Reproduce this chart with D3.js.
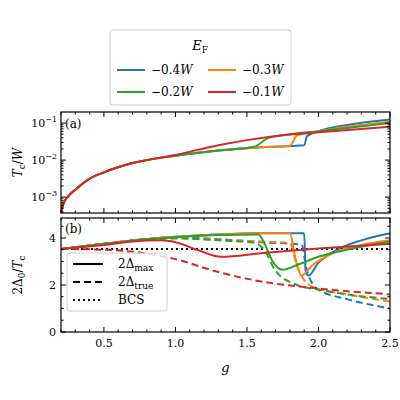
<!DOCTYPE html><html><head><script src="https://cdn.jsdelivr.net/npm/d3@7"></script>
<style>body{margin:0;background:#fff}text{font-family:"DejaVu Serif",serif}</style></head><body>
<svg id="c" width="400" height="400"></svg>
<script>
const labels=["−0.4","−0.3","−0.2","−0.1"];
const colors=["#1f77b4","#ff7f0e","#2ca02c","#d62728"];
// Tc/W as log10 values: [g, log10]
const tcBlue=[[0.2,-3.43],[0.22,-3.15],[0.25,-2.98],[0.3,-2.8],[0.4,-2.5],[0.5,-2.33],[0.7,-2.08],[1.0,-1.88],[1.3,-1.74],[1.6,-1.65],[1.9,-1.6],[1.92,-1.35],[2.0,-1.22],[2.2,-1.05],[2.5,-0.9]];
const tcOrange=[[0.2,-3.43],[0.22,-3.15],[0.25,-2.98],[0.3,-2.8],[0.4,-2.5],[0.5,-2.33],[0.7,-2.08],[1.0,-1.88],[1.3,-1.74],[1.6,-1.65],[1.8,-1.62],[1.85,-1.33],[2.0,-1.22],[2.2,-1.1],[2.5,-0.96]];
const tcGreen=[[0.2,-3.43],[0.22,-3.15],[0.25,-2.98],[0.3,-2.8],[0.4,-2.5],[0.5,-2.33],[0.7,-2.08],[1.0,-1.88],[1.3,-1.74],[1.55,-1.64],[1.65,-1.4],[1.8,-1.3],[2.0,-1.22],[2.2,-1.13],[2.5,-1.0]];
const tcRed=[[0.2,-3.43],[0.22,-3.15],[0.25,-2.98],[0.3,-2.8],[0.4,-2.5],[0.5,-2.33],[0.7,-2.08],[1.0,-1.86],[1.3,-1.6],[1.5,-1.46],[1.75,-1.33],[2.0,-1.25],[2.25,-1.17],[2.5,-1.1]];
const maxBlue=[[0.2,3.53],[0.5,3.75],[0.8,3.95],[1.0,4.05],[1.3,4.15],[1.6,4.2],[1.9,4.2],[1.91,2.6],[1.93,2.4],[2.0,2.95],[2.1,3.4],[2.3,3.9],[2.5,4.2]];
const maxOrange=[[0.2,3.53],[0.5,3.75],[0.8,3.95],[1.0,4.05],[1.3,4.15],[1.6,4.2],[1.8,4.2],[1.84,3.1],[1.88,2.4],[1.95,2.8],[2.1,3.35],[2.3,3.7],[2.5,3.9]];
const maxGreen=[[0.2,3.53],[0.5,3.75],[0.8,3.95],[1.0,4.03],[1.3,4.13],[1.58,4.15],[1.62,3.8],[1.68,3.0],[1.75,2.65],[1.85,2.85],[2.0,3.2],[2.2,3.5],[2.5,3.85]];
const maxRed=[[0.2,3.53],[0.5,3.7],[0.7,3.85],[0.9,3.9],[1.0,3.82],[1.15,3.5],[1.32,3.2],[1.6,3.35],[2.0,3.55],[2.5,3.75]];
const trueBlue=[[0.2,3.53],[0.5,3.75],[0.8,3.95],[1.0,4.03],[1.3,3.95],[1.6,3.82],[1.88,3.72],[1.92,2.6],[2.0,1.8],[2.2,1.4],[2.5,1.0]];
const trueOrange=[[0.2,3.53],[0.5,3.75],[0.8,3.95],[1.0,4.0],[1.3,3.92],[1.6,3.85],[1.8,3.78],[1.85,2.8],[1.95,1.95],[2.2,1.6],[2.5,1.3]];
const trueGreen=[[0.2,3.53],[0.5,3.75],[0.8,3.95],[1.0,3.98],[1.3,3.9],[1.55,3.8],[1.62,3.5],[1.7,2.6],[1.85,2.0],[2.0,1.8],[2.2,1.6],[2.5,1.4]];
const trueRed=[[0.2,3.53],[0.5,3.5],[0.75,3.38],[1.0,3.1],[1.3,2.55],[1.6,2.15],[2.0,1.85],[2.5,1.6]];
const tcSeries=[tcBlue,tcOrange,tcGreen,tcRed];
const maxSeries=[maxBlue,maxOrange,maxGreen,maxRed];
const trueSeries=[trueBlue,trueOrange,trueGreen,trueRed];
const xTicks=[0.5,1.0,1.5,2.0,2.5];
const BCS=3.53;

const svg=d3.select("#c");
const L=61,R=390,aT=112,aB=213,bT=218,bB=332;
const x=d3.scaleLinear().domain([0.2,2.5]).range([L,R]);
const ya=d3.scaleLinear().domain([-3.43,-0.7]).range([aB,aT]);
const yb=d3.scaleLinear().domain([0,4.85]).range([bB,bT]);
const line=(ys)=>d3.line().x(d=>x(d[0])).y(d=>ys(d[1])).curve(d3.curveMonotoneX);
svg.append("defs").html(`<clipPath id="ca"><rect x="${L}" y="${aT}" width="${R-L}" height="${aB-aT}"/></clipPath><clipPath id="cb"><rect x="${L}" y="${bT}" width="${R-L}" height="${bB-bT}"/></clipPath>`);
const ga=svg.append("g").attr("clip-path","url(#ca)");
tcSeries.forEach((s,i)=>ga.append("path").attr("d",line(ya)(s)).attr("fill","none").attr("stroke",colors[i]).attr("stroke-width",2));
const gb=svg.append("g").attr("clip-path","url(#cb)");
gb.append("line").attr("x1",L).attr("x2",R).attr("y1",yb(BCS)).attr("y2",yb(BCS)).attr("stroke","#000").attr("stroke-width",2).attr("stroke-dasharray","2,3");
trueSeries.forEach((s,i)=>gb.append("path").attr("d",line(yb)(s)).attr("fill","none").attr("stroke",colors[i]).attr("stroke-width",2).attr("stroke-dasharray","7,4"));
maxSeries.forEach((s,i)=>gb.append("path").attr("d",line(yb)(s)).attr("fill","none").attr("stroke",colors[i]).attr("stroke-width",2));

function frame(t,b){svg.append("rect").attr("x",L).attr("y",t).attr("width",R-L).attr("height",b-t).attr("fill","none").attr("stroke","#000").attr("stroke-width",1.2);}
frame(aT,aB);frame(bT,bB);
const minor=d3.range(0.2,2.501,0.1);
function xt(t,b,lab){
 minor.forEach(v=>{const big=xTicks.some(k=>Math.abs(k-v)<1e-6);const l=big?5:2.5;
  svg.append("line").attr("x1",x(v)).attr("x2",x(v)).attr("y1",b).attr("y2",b-l).attr("stroke","#000");
  svg.append("line").attr("x1",x(v)).attr("x2",x(v)).attr("y1",t).attr("y2",t+l).attr("stroke","#000");});
 if(lab)xTicks.forEach(v=>svg.append("text").attr("x",x(v)).attr("y",b+15).attr("text-anchor","middle").attr("font-size",11).text(v.toFixed(1)));
}
xt(aT,aB,false);xt(bT,bB,true);
[-3,-2,-1].forEach(e=>{
 [L,R].forEach((px,j)=>{const d=j?-1:1;
  svg.append("line").attr("x1",px).attr("x2",px+5*d).attr("y1",ya(e)).attr("y2",ya(e)).attr("stroke","#000");});
 svg.append("text").attr("x",L-4).attr("y",ya(e)+4).attr("text-anchor","end").attr("font-size",11).html(`10<tspan dy="-5" font-size="8">${"−"+(-e)}</tspan>`);
});
for(let e=-4;e<0;e++)for(let m=2;m<10;m++){const v=e+Math.log10(m);if(v<-3.43||v>-0.7)continue;
 [L,R].forEach((px,j)=>{const d=j?-1:1;svg.append("line").attr("x1",px).attr("x2",px+2.5*d).attr("y1",ya(v)).attr("y2",ya(v)).attr("stroke","#000");});}
d3.range(0,4.85,0.5).forEach(v=>{const big=v%2===0;const l=big?5:2.5;
 [L,R].forEach((px,j)=>{const d=j?-1:1;svg.append("line").attr("x1",px).attr("x2",px+l*d).attr("y1",yb(v)).attr("y2",yb(v)).attr("stroke","#000");});
 if(big)svg.append("text").attr("x",L-5).attr("y",yb(v)+4).attr("text-anchor","end").attr("font-size",11).text(v);});
svg.append("text").attr("x",L+4).attr("y",aT+16).attr("font-size",12).text("(a)");
svg.append("text").attr("x",L+4).attr("y",bT+15).attr("font-size",12).text("(b)");
svg.append("text").attr("x",x(1.35)).attr("y",372).attr("text-anchor","middle").attr("font-size",13).attr("font-style","italic").text("g");
svg.append("text").attr("transform",`translate(22,${(aT+aB)/2}) rotate(-90)`).attr("text-anchor","middle").attr("font-size",12).html(`<tspan font-style="italic">T</tspan><tspan font-size="9" dy="3">c</tspan><tspan dy="-3">/</tspan><tspan font-style="italic">W</tspan>`);
svg.append("text").attr("transform",`translate(22,${(bT+bB)/2}) rotate(-90)`).attr("text-anchor","middle").attr("font-size",12).html(`2Δ<tspan font-size="9" dy="3">0</tspan><tspan dy="-3">/</tspan><tspan font-style="italic">T</tspan><tspan font-size="9" dy="3">c</tspan>`);
const lg=svg.append("g");
lg.append("rect").attr("x",67).attr("y",253).attr("width",100).attr("height",58).attr("rx",3).attr("fill","#fff").attr("fill-opacity",0.8).attr("stroke","#ccc");
[["",null,"max"],["7,4",null,"true"],["2,3",null,"BCS"]].forEach((r,i)=>{const yy=264+i*18;
 lg.append("line").attr("x1",73).attr("x2",103).attr("y1",yy).attr("y2",yy).attr("stroke","#000").attr("stroke-width",2).attr("stroke-dasharray",r[0]||null);
 const t=lg.append("text").attr("x",118).attr("y",yy+4).attr("font-size",12);
 if(r[2]==="BCS")t.text("BCS");else t.html(`2Δ<tspan font-size="9" dy="3">${r[2]}</tspan>`);});
const tg=svg.append("g");
tg.append("rect").attr("x",110).attr("y",30).attr("width",181).attr("height",75).attr("rx",3).attr("fill","#fff").attr("stroke","#ccc");
tg.append("text").attr("x",200).attr("y",50).attr("text-anchor","middle").attr("font-size",13).html(`<tspan font-style="italic">E</tspan><tspan font-size="9" dy="3">F</tspan>`);
labels.forEach((lb,i)=>{const col=i%2,row=Math.floor(i/2);const cx=117+col*91,cy=70+row*22;
 tg.append("line").attr("x1",cx).attr("x2",cx+28).attr("y1",cy).attr("y2",cy).attr("stroke",colors[i]).attr("stroke-width",2);
 tg.append("text").attr("x",cx+34).attr("y",cy+4).attr("font-size",12).html(`${lb}<tspan font-style="italic">W</tspan>`);});
</script></body></html>
